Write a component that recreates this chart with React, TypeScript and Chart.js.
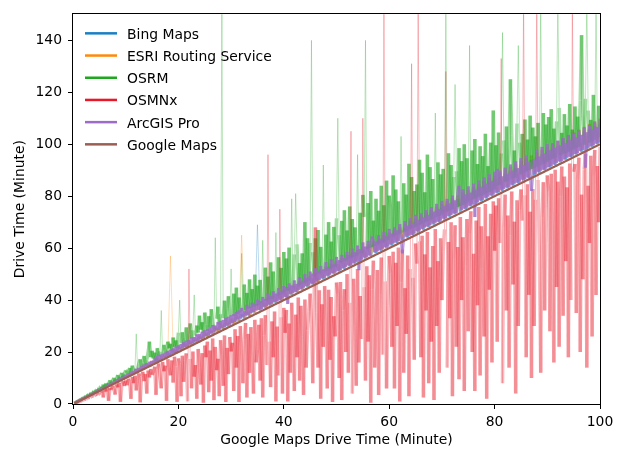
import { useEffect, useRef } from "react";
import { Chart, registerables } from "chart.js";

Chart.register(...registerables);

// Google Maps drive time (minutes) of the trips, sorted — x values of the dense series
const googleMinutes = [
  0.25, 0.5, 0.75, 1, 1.25, 1.5, 1.75, 2, 2.25, 2.5, 2.75, 3, 3.25, 3.5, 3.75, 4, 4.25, 4.5, 4.75, 5,
  5.25, 5.5, 5.75, 6, 6.25, 6.5, 6.75, 7, 7.25, 7.5, 7.75, 8, 8.25, 8.5, 8.75, 9, 9.25, 9.5, 9.75, 10,
  10.25, 10.5, 10.75, 11, 11.25, 11.5, 11.75, 12, 12.25, 12.5, 12.75, 13, 13.25, 13.5, 13.75, 14, 14.25, 14.5, 14.75, 15,
  15.25, 15.5, 15.75, 16, 16.25, 16.5, 16.75, 17, 17.25, 17.5, 17.75, 18, 18.25, 18.5, 18.75, 19, 19.25, 19.5, 19.75, 20,
  20.25, 20.5, 20.75, 21, 21.25, 21.5, 21.75, 22, 22.25, 22.5, 22.75, 23, 23.25, 23.5, 23.75, 24, 24.25, 24.5, 24.75, 25,
  25.25, 25.5, 25.75, 26, 26.25, 26.5, 26.75, 27, 27.25, 27.5, 27.75, 28, 28.25, 28.5, 28.75, 29, 29.25, 29.5, 29.75, 30,
  30.25, 30.5, 30.75, 31, 31.25, 31.5, 31.75, 32, 32.25, 32.5, 32.75, 33, 33.25, 33.5, 33.75, 34, 34.25, 34.5, 34.75, 35,
  35.25, 35.5, 35.75, 36, 36.25, 36.5, 36.75, 37, 37.25, 37.5, 37.75, 38, 38.25, 38.5, 38.75, 39, 39.25, 39.5, 39.75, 40,
  40.25, 40.5, 40.75, 41, 41.25, 41.5, 41.75, 42, 42.25, 42.5, 42.75, 43, 43.25, 43.5, 43.75, 44, 44.25, 44.5, 44.75, 45,
  45.25, 45.5, 45.75, 46, 46.25, 46.5, 46.75, 47, 47.25, 47.5, 47.75, 48, 48.25, 48.5, 48.75, 49, 49.25, 49.5, 49.75, 50,
  50.25, 50.5, 50.75, 51, 51.25, 51.5, 51.75, 52, 52.25, 52.5, 52.75, 53, 53.25, 53.5, 53.75, 54, 54.25, 54.5, 54.75, 55,
  55.25, 55.5, 55.75, 56, 56.25, 56.5, 56.75, 57, 57.25, 57.5, 57.75, 58, 58.25, 58.5, 58.75, 59, 59.25, 59.5, 59.75, 60,
  60.25, 60.5, 60.75, 61, 61.25, 61.5, 61.75, 62, 62.25, 62.5, 62.75, 63, 63.25, 63.5, 63.75, 64, 64.25, 64.5, 64.75, 65,
  65.25, 65.5, 65.75, 66, 66.25, 66.5, 66.75, 67, 67.25, 67.5, 67.75, 68, 68.25, 68.5, 68.75, 69, 69.25, 69.5, 69.75, 70,
  70.25, 70.5, 70.75, 71, 71.25, 71.5, 71.75, 72, 72.25, 72.5, 72.75, 73, 73.25, 73.5, 73.75, 74, 74.25, 74.5, 74.75, 75,
  75.25, 75.5, 75.75, 76, 76.25, 76.5, 76.75, 77, 77.25, 77.5, 77.75, 78, 78.25, 78.5, 78.75, 79, 79.25, 79.5, 79.75, 80,
  80.25, 80.5, 80.75, 81, 81.25, 81.5, 81.75, 82, 82.25, 82.5, 82.75, 83, 83.25, 83.5, 83.75, 84, 84.25, 84.5, 84.75, 85,
  85.25, 85.5, 85.75, 86, 86.25, 86.5, 86.75, 87, 87.25, 87.5, 87.75, 88, 88.25, 88.5, 88.75, 89, 89.25, 89.5, 89.75, 90,
  90.25, 90.5, 90.75, 91, 91.25, 91.5, 91.75, 92, 92.25, 92.5, 92.75, 93, 93.25, 93.5, 93.75, 94, 94.25, 94.5, 94.75, 95,
  95.25, 95.5, 95.75, 96, 96.25, 96.5, 96.75, 97, 97.25, 97.5, 97.75, 98, 98.25, 98.5, 98.75, 99, 99.25, 99.5, 99.75, 100,
];

const osrm = [
  0.3, 0.6, 0.9, 1.2, 1.4, 1.8, 2.0, 2.5, 2.5, 3.1, 3.1, 3.8, 3.6, 4.4, 4.2, 5.0, 4.7, 5.6, 5.2, 6.3,
  6.6, 5.9, 7.5, 6.5, 8.0, 7.2, 7.4, 9.2, 7.8, 8.6, 10.1, 8.7, 9.4, 11.2, 9.3, 10.5, 12.0, 10.2, 11.5, 13.0,
  12.5, 11.4, 13.9, 12.2, 14.8, 13.0, 12.6, 27, 13.5, 15.6, 17.2, 14.3, 16.0, 18.5, 15.0, 17.2, 19.6, 24, 18.0, 20.5,
  17.5, 19.8, 16.6, 21.5, 18.4, 20.2, 36, 18.9, 22.8, 20.6, 19.5, 24.0, 21.4, 23.2, 20.3, 25.6, 22.0, 24.5, 21.6, 27.5,
  40, 23.5, 27.6, 22.8, 25.4, 29.5, 24.0, 26.9, 31.0, 25.2, 28.4, 42, 26.3, 30.2, 27.5, 34.0, 28.6, 31.5, 27.4, 35.2,
  30.5, 28.2, 33.8, 29.6, 36.5, 31.2, 29.0, 64, 32.8, 37.5, 30.6, 34.6, 155, 33.0, 39.8, 31.8, 36.8, 41.5, 33.4, 52,
  34.0, 42.5, 33.8, 44.8, 34.6, 41.0, 35.2, 58, 35.8, 46.0, 36.0, 42.8, 36.6, 48.0, 37.0, 44.2, 37.4, 49.8, 37.8, 45.6,
  38.2, 47.8, 38.8, 63, 39.4, 52.5, 39.8, 49.0, 40.2, 54.5, 40.6, 51.0, 41.0, 66, 41.6, 56.5, 42.0, 52.4, 42.6, 58.5,
  43.2, 56.0, 43.6, 60.2, 44.0, 79, 44.6, 57.6, 81, 61.5, 45.6, 54.2, 46.0, 58.0, 46.4, 70, 46.8, 63.8, 47.4, 62.0,
  140, 58.5, 49.2, 63.8, 49.8, 67.0, 50.2, 60.5, 50.6, 92, 51.0, 65.2, 51.4, 70.0, 51.8, 62.5, 52.4, 68.2, 52.8, 71.5,
  110, 65.0, 54.4, 70.5, 54.8, 74.6, 55.2, 66.8, 55.8, 76.0, 56.2, 71.2, 56.6, 68.0, 57.0, 96, 57.6, 73.6, 58.0, 80.5,
  72.0, 140, 59.6, 77.4, 60.0, 82.0, 60.4, 70.6, 60.8, 79.0, 61.4, 74.4, 61.8, 84.0, 62.2, 76.5, 62.6, 86.0, 63.2, 80.2,
  75.5, 64.2, 88.0, 64.8, 82.6, 65.2, 78.0, 65.6, 103, 66.0, 85.0, 66.4, 80.6, 66.8, 92.5, 67.4, 87.4, 67.8, 82.0, 68.2,
  84.5, 68.8, 94.0, 69.2, 89.0, 69.6, 81.5, 70.2, 96.0, 70.6, 91.2, 71.0, 86.6, 71.6, 112, 72.0, 93.0, 72.4, 88.4, 73.0,
  90.5, 73.6, 155, 74.0, 96.5, 74.6, 92.0, 75.0, 87.4, 123, 89.6, 75.8, 98.5, 76.2, 93.5, 76.6, 100.0, 77.2, 94.6, 77.6,
  138, 78.4, 97.6, 78.8, 102.0, 79.4, 92.4, 79.8, 99.2, 80.2, 95.4, 80.6, 104.0, 81.2, 91.6, 81.6, 100.6, 82.0, 113, 82.6,
  99.6, 84.0, 104.5, 84.4, 96.5, 143, 101.5, 85.4, 106.8, 85.8, 98.0, 125, 103.4, 86.8, 97.6, 87.2, 108.0, 138, 100.6, 88.4,
  104.0, 89.0, 109.5, 89.6, 101.8, 90.0, 111.0, 90.4, 106.4, 90.8, 103.0, 91.4, 108.2, 91.8, 155, 92.2, 112.0, 92.6, 107.6, 93.2,
  110.5, 94.0, 113.5, 94.4, 106.0, 94.8, 108.8, 155, 114.0, 95.8, 104.4, 96.2, 111.6, 96.6, 107.2, 97.0, 115.5, 97.6, 105.6, 98.0,
  114.5, 98.6, 110.6, 99.0, 116.8, 142, 111.2, 99.8, 117.5, 155, 113.0, 100.6, 109.4, 101.2, 119.0, 101.6, 155, 102.2, 114.8, 102.8,
];

const osmnx = [
  0.2, 0.4, 0.6, 0.8, 0.9, 1.2, 1.4, 1.5, 1.9, 2.0, 2.2, 2.6, 2.5, 3.0, 3.2, 3.1, 3.6, 3.9, 3.5, 4.2,
  4.4, 5.1, 2.5, 5.6, 4.8, 6.1, 1.2, 6.2, 5.4, 7.0, 6.0, 3.6, 7.6, 6.4, 8.2, 0.8, 7.4, 8.8, 6.9, 9.1,
  7.2, 9.8, 8.4, 2.0, 10.4, 8.0, 10.9, 5.2, 9.6, 11.8, 0.6, 10.5, 12.4, 8.8, 11.6, 4.0, 12.9, 10.2, 13.5, 11.2,
  12.0, 14.4, 3.5, 13.2, 15.6, 10.8, 6.0, 16.2, 12.6, 14.8, 1.2, 17.2, 13.6, 11.0, 16.8, 8.2, 18.2, 14.4, 0.8, 17.6,
  15.4, 3.0, 18.6, 8.5, 16.8, 19.5, 1.0, 52, 17.4, 6.0, 20.2, 10.5, 15.0, 2.0, 21.2, 14.0, 7.5, 19.6, 0.5, 22.5,
  18.0, 24.0, 4.5, 20.6, 9.0, 25.2, 1.5, 22.0, 13.0, 17.4, 3.0, 24.6, 19.0, 7.0, 26.4, 0.8, 21.6, 11.5, 25.8, 20.2,
  23.6, 5.0, 28.8, 14.0, 26.2, 0.8, 30.0, 20.4, 8.0, 24.8, 31.2, 2.5, 27.0, 12.0, 29.6, 18.8, 4.0, 32.4, 16.0, 21.0,
  30.5, 9.0, 33.0, 2.5, 26.4, 34.2, 15.0, 96, 24.0, 6.5, 31.8, 18.0, 35.6, 1.0, 29.8, 11.0, 75, 33.4, 4.0, 37.0,
  27.4, 36.2, 1.0, 31.0, 12.0, 39.0, 24.6, 5.0, 34.4, 18.0, 41.0, 9.0, 37.8, 26.0, 3.5, 40.2, 14.0, 28.4, 35.6, 42.5,
  30.6, 8.0, 40.0, 68, 35.2, 14.0, 43.8, 2.0, 38.4, 22.0, 45.4, 32.0, 6.0, 44.0, 17.0, 41.2, 0.8, 33.8, 26.0, 46.8,
  42.4, 10.0, 47.0, 1.5, 36.0, 44.2, 20.0, 50.0, 12.0, 39.0, 105, 4.0, 48.2, 30.2, 7.0, 52.0, 16.0, 41.6, 25.0, 110,
  45.0, 9.0, 53.0, 24.0, 49.6, 0.5, 44.0, 55.2, 14.0, 34.0, 51.6, 3.5, 42.6, 56.4, 19.0, 155, 47.2, 6.0, 38.0, 57.0,
  50.8, 22.0, 58.6, 6.0, 54.4, 30.0, 60.2, 1.0, 46.8, 59.4, 12.0, 44.6, 27.0, 57.2, 3.0, 52.0, 131, 48.6, 17.0, 61.8,
  54.0, 155, 62.6, 18.0, 64.8, 2.5, 57.6, 36.0, 66.2, 8.0, 52.6, 24.0, 60.8, 1.5, 67.4, 30.0, 55.0, 12.0, 63.8, 40.0,
  58.8, 67.2, 128, 14.0, 62.4, 33.0, 70.0, 3.0, 56.0, 68.8, 22.0, 60.4, 9.5, 72.0, 40.0, 64.2, 5.0, 53.4, 71.2, 28.0,
  66.0, 74.2, 20.0, 57.8, 5.0, 70.6, 38.0, 75.8, 11.0, 68.4, 52.2, 26.0, 77.0, 2.0, 64.6, 44.0, 73.2, 16.0, 78.0, 59.0,
  76.4, 24.0, 79.2, 62.0, 133, 8.0, 68.4, 80.6, 36.0, 72.6, 14.0, 64.8, 81.8, 46.0, 70.2, 4.0, 78.4, 30.0, 74.6, 82.6,
  70.6, 155, 80.4, 18.0, 84.6, 42.0, 74.0, 10.0, 82.8, 30.0, 78.6, 155, 86.2, 58.0, 12.0, 71.8, 85.4, 36.0, 76.2, 88.0,
  82.0, 28.0, 88.6, 62.0, 16.0, 90.2, 45.0, 85.6, 22.0, 79.8, 91.4, 34.0, 87.6, 55.0, 83.4, 18.0, 92.6, 40.0, 155, 89.4,
  92.4, 35.0, 86.8, 94.8, 20.0, 80.6, 48.0, 90.4, 96.2, 14.0, 84.0, 62.0, 95.6, 26.0, 88.2, 97.8, 42.0, 91.6, 70.0, 99.0,
];

const arcgisPro = [
  0.26, 0.53, 0.79, 1.05, 1.3, 1.6, 1.82, 2.12, 2.35, 2.65, 2.88, 3.2, 3.4, 3.7, 3.95, 4.2, 4.5, 4.7, 5.0, 5.3,
  5.5, 5.9, 6.0, 6.6, 6.5, 7.2, 7.0, 7.7, 7.5, 8.3, 8.0, 8.8, 8.5, 9.3, 9.1, 9.9, 9.5, 10.5, 10.0, 10.9,
  10.6, 11.6, 11.0, 12.3, 11.5, 12.8, 12.0, 13.6, 12.4, 13.9, 13.0, 14.6, 13.5, 15.2, 14.0, 15.7, 14.4, 16.3, 15.0, 16.6,
  15.8, 17.6, 16.2, 18.4, 16.6, 19.0, 17.2, 19.3, 17.9, 19.8, 18.2, 20.4, 18.6, 21.0, 19.3, 21.4, 19.6, 22.1, 20.0, 22.6,
  21.0, 23.2, 21.4, 23.8, 22.0, 24.4, 22.3, 24.6, 23.0, 25.6, 23.4, 25.8, 24.1, 26.8, 24.3, 27.0, 25.0, 27.8, 25.4, 28.4,
  26.2, 28.8, 26.4, 29.6, 27.3, 30.4, 27.6, 30.2, 28.4, 31.6, 28.5, 32.0, 29.3, 32.4, 29.6, 33.2, 30.2, 33.6, 30.6, 34.2,
  31.2, 34.6, 31.6, 35.4, 32.6, 36.0, 32.9, 37.0, 33.5, 35.8, 34.0, 38.2, 34.2, 37.4, 35.0, 39.0, 35.4, 38.4, 36.0, 40.2,
  36.2, 39.6, 36.5, 41.2, 37.4, 40.4, 37.6, 42.6, 38.3, 41.6, 38.6, 43.4, 39.3, 42.4, 39.6, 44.6, 40.2, 43.2, 40.6, 45.4,
  41.2, 45.0, 38.5, 46.4, 42.4, 45.6, 42.8, 47.6, 43.2, 46.2, 43.8, 48.8, 44.2, 47.4, 44.8, 50.0, 45.4, 48.6, 45.6, 51.0,
  46.4, 50.2, 46.6, 52.2, 47.2, 51.0, 47.8, 53.2, 48.4, 51.8, 48.6, 54.6, 49.4, 52.6, 49.8, 55.8, 50.4, 53.8, 50.6, 56.6,
  51.2, 55.4, 51.6, 57.4, 52.2, 56.2, 52.8, 58.6, 53.4, 57.2, 53.6, 59.8, 54.2, 58.4, 54.8, 61.0, 51.5, 59.6, 55.6, 62.2,
  56.4, 60.6, 56.6, 62.8, 57.2, 61.6, 64.5, 63.6, 58.4, 62.4, 58.8, 65.0, 59.2, 63.4, 59.8, 66.2, 60.4, 64.6, 60.6, 67.4,
  61.4, 65.6, 61.8, 68.0, 62.2, 66.8, 62.8, 69.2, 63.4, 58.0, 63.8, 70.4, 64.4, 68.6, 64.8, 71.6, 65.2, 69.6, 65.6, 72.8,
  66.6, 70.8, 66.8, 73.4, 67.4, 71.8, 68.0, 74.6, 68.4, 72.8, 68.8, 75.8, 69.4, 74.0, 69.8, 77.0, 70.2, 75.0, 70.6, 78.2,
  71.4, 76.2, 71.6, 79.0, 72.4, 77.2, 72.8, 80.2, 73.4, 78.4, 73.6, 81.6, 84.0, 79.4, 74.6, 82.6, 75.2, 80.6, 75.6, 83.8,
  76.4, 81.4, 76.8, 84.8, 72.0, 82.4, 77.6, 86.0, 78.4, 83.6, 78.6, 87.2, 79.4, 84.8, 79.8, 88.4, 80.4, 85.8, 80.6, 89.4,
  81.4, 90.5, 81.6, 89.8, 82.4, 87.6, 82.8, 91.0, 83.4, 88.6, 83.6, 92.2, 84.4, 89.8, 84.8, 93.4, 85.2, 90.8, 85.6, 94.6,
  86.4, 92.0, 86.6, 95.6, 87.2, 93.2, 87.8, 82.0, 88.4, 94.2, 88.6, 97.8, 89.4, 95.2, 89.8, 99.0, 90.2, 96.4, 90.6, 100.0,
  91.2, 97.6, 91.6, 100.4, 92.2, 98.6, 92.8, 101.4, 93.4, 99.6, 93.6, 102.4, 94.2, 100.4, 94.8, 103.6, 95.2, 101.6, 95.6, 104.4,
  96.2, 102.6, 96.6, 105.2, 97.4, 103.6, 97.8, 106.4, 91.0, 104.6, 98.6, 107.4, 99.2, 105.6, 99.6, 108.4, 100.2, 106.6, 100.6, 109.6,
];

// Bing and ESRI were sampled on a coarser set of trips (every 0.5 minute)
const sampleMinutes = [
  0.5, 1, 1.5, 2, 2.5, 3, 3.5, 4, 4.5, 5, 5.5, 6, 6.5, 7, 7.5, 8, 8.5, 9, 9.5, 10,
  10.5, 11, 11.5, 12, 12.5, 13, 13.5, 14, 14.5, 15, 15.5, 16, 16.5, 17, 17.5, 18, 18.5, 19, 19.5, 20,
  20.5, 21, 21.5, 22, 22.5, 23, 23.5, 24, 24.5, 25, 25.5, 26, 26.5, 27, 27.5, 28, 28.5, 29, 29.5, 30,
  30.5, 31, 31.5, 32, 32.5, 33, 33.5, 34, 34.5, 35, 35.5, 36, 36.5, 37, 37.5, 38, 38.5, 39, 39.5, 40,
  40.5, 41, 41.5, 42, 42.5, 43, 43.5, 44, 44.5, 45, 45.5, 46, 46.5, 47, 47.5, 48, 48.5, 49, 49.5, 50,
  50.5, 51, 51.5, 52, 52.5, 53, 53.5, 54, 54.5, 55, 55.5, 56, 56.5, 57, 57.5, 58, 58.5, 59, 59.5, 60,
  60.5, 61, 61.5, 62, 62.5, 63, 63.5, 64, 64.5, 65, 65.5, 66, 66.5, 67, 67.5, 68, 68.5, 69, 69.5, 70,
  70.5, 71, 71.5, 72, 72.5, 73, 73.5, 74, 74.5, 75, 75.5, 76, 76.5, 77, 77.5, 78, 78.5, 79, 79.5, 80,
  80.5, 81, 81.5, 82, 82.5, 83, 83.5, 84, 84.5, 85, 85.5, 86, 86.5, 87, 87.5, 88, 88.5, 89, 89.5, 90,
  90.5, 91, 91.5, 92, 92.5, 93, 93.5, 94, 94.5, 95, 95.5, 96, 96.5, 97, 97.5, 98, 98.5, 99, 99.5, 100,
];

const bingMaps = [
  0.6, 1.2, 1.7, 2.3, 2.8, 3.4, 3.8, 4.5, 4.9, 5.7, 5.9, 6.8, 7.0, 7.9, 8.0, 9.1, 9.0, 10.2, 10.0, 11.3,
  10.7, 11.9, 11.7, 12.9, 12.7, 14.0, 13.7, 15.1, 14.7, 16.2, 15.7, 17.3, 16.7, 18.4, 17.7, 19.4, 18.7, 20.5, 19.7, 21.6,
  20.8, 22.7, 21.8, 23.8, 22.8, 24.8, 23.8, 25.9, 24.8, 27.0, 25.8, 28.1, 26.8, 29.2, 27.8, 30.2, 28.8, 31.3, 29.8, 32.4,
  30.9, 33.5, 31.9, 34.6, 32.9, 35.6, 33.9, 36.7, 34.9, 69, 35.9, 38.9, 36.9, 39.9, 37.9, 41.0, 38.9, 42.1, 39.9, 43.2,
  41.0, 44.3, 42.0, 45.4, 43.0, 46.4, 44.0, 47.5, 45.0, 48.6, 46.0, 49.7, 47.0, 50.8, 48.0, 51.8, 49.0, 52.9, 50.0, 54.0,
  51.0, 55.1, 52.0, 56.2, 53.0, 57.2, 54.0, 58.3, 55.0, 59.4, 56.0, 60.5, 57.0, 61.6, 58.0, 62.6, 59.0, 63.7, 60.0, 64.8,
  61.0, 65.9, 62.0, 67.0, 63.0, 68.0, 64.0, 69.1, 65.0, 70.2, 66.0, 71.3, 67.0, 72.4, 68.0, 73.4, 69.0, 74.5, 70.0, 75.6,
  71.0, 76.7, 72.0, 77.8, 73.0, 78.8, 74.0, 79.9, 75.0, 81.0, 76.0, 82.1, 77.0, 83.2, 78.0, 84.2, 79.0, 85.3, 80.0, 86.4,
  81.0, 87.5, 82.0, 88.6, 83.0, 89.6, 84.0, 90.7, 85.0, 91.8, 86.0, 92.9, 87.0, 94.0, 88.0, 95.0, 89.0, 96.1, 90.0, 97.2,
  91.0, 98.3, 92.0, 99.4, 93.0, 100.4, 94.0, 101.5, 95.0, 102.6, 96.0, 103.7, 97.0, 104.8, 98.0, 105.8, 99.0, 106.9, 100.0, 108.0,
];

const esriRouting = [
  0.5, 1.1, 1.6, 2.2, 2.6, 3.3, 3.6, 4.4, 4.6, 5.5, 5.6, 6.6, 6.6, 7.7, 7.7, 8.8, 8.7, 9.9, 9.7, 11.0,
  10.7, 12.1, 11.7, 13.2, 12.8, 14.3, 13.8, 15.4, 14.8, 16.5, 15.8, 17.6, 16.8, 18.7, 17.9, 19.8, 57, 20.9, 19.9, 22.0,
  20.9, 23.1, 21.9, 24.2, 23.0, 25.3, 24.0, 26.4, 25.0, 27.5, 26.0, 28.6, 27.0, 29.7, 28.1, 30.8, 29.1, 31.9, 30.1, 33.0,
  31.1, 34.1, 32.1, 65, 33.2, 36.3, 34.2, 37.4, 35.2, 38.5, 36.2, 39.6, 37.2, 40.7, 38.3, 41.8, 39.3, 42.9, 40.3, 44.0,
  41.3, 45.1, 42.3, 46.2, 43.4, 47.3, 44.4, 48.4, 45.4, 49.5, 46.4, 50.6, 47.4, 51.7, 48.5, 52.8, 49.5, 53.9, 50.5, 55.0,
  51.5, 56.1, 52.5, 57.2, 53.6, 58.3, 54.6, 59.4, 55.6, 60.5, 56.6, 61.6, 57.6, 62.7, 58.7, 63.8, 59.7, 64.9, 60.7, 66.0,
  61.7, 67.1, 62.7, 68.2, 63.8, 69.3, 64.8, 70.4, 65.8, 71.5, 66.8, 72.6, 67.8, 73.7, 68.9, 74.8, 69.9, 75.9, 70.9, 77.0,
  71.9, 78.1, 72.9, 79.2, 74.0, 80.3, 75.0, 81.4, 76.0, 82.5, 77.0, 83.6, 78.0, 84.7, 79.1, 85.8, 80.1, 86.9, 81.1, 88.0,
  82.1, 89.1, 83.1, 90.2, 84.2, 91.3, 85.2, 92.4, 86.2, 93.5, 87.2, 94.6, 88.2, 95.7, 89.3, 96.8, 90.3, 97.9, 91.3, 99.0,
  92.3, 100.1, 93.3, 101.2, 94.4, 102.3, 95.4, 103.4, 96.4, 104.5, 97.4, 105.6, 98.4, 106.7, 99.5, 107.8, 100.5, 108.9, 101.5, 110.0,
];

const seriesNames = ["Bing Maps", "ESRI Routing Service", "OSRM", "OSMNx", "ArcGIS Pro", "Google Maps"];
const xTickValues = [0, 20, 40, 60, 80, 100];
const yTickValues = [0, 20, 40, 60, 80, 100, 120, 140];

const FONT = "DejaVu Sans";
const FONT_SIZE = 13.9;

const COLORS: number[][] = [
  [26, 128, 196],
  [255, 138, 10],
  [30, 168, 30],
  [232, 24, 40],
  [156, 108, 200],
  [154, 94, 82],
];
const BASE_ALPHA = [0.4, 0.4, 0.42, 0.32, 0.6];
const BODY_WIDTH = [3, 3, 3.5, 3.5, 3];

const rgba = (c: number[], a: number) => `rgba(${c[0]},${c[1]},${c[2]},${a})`;

function noisySeries(idx: number, xs: number[], values: number[], order: number) {
  const c = COLORS[idx];
  const base = BASE_ALPHA[idx];
  // a stroke reaching far above its Google time is an isolated outlier: thin and faint
  const isOutlier = (ctx: any) => {
    const top = Math.max(values[ctx.p0DataIndex], values[ctx.p1DataIndex]);
    return top > 1.5 * xs[ctx.p1DataIndex] + 4;
  };
  const dyOf = (ctx: any) => Math.abs(ctx.p1.y - ctx.p0.y);
  return {
    label: seriesNames[idx],
    data: xs.map((x, i) => ({ x, y: values[i] })),
    borderColor: rgba(c, base),
    borderWidth: BODY_WIDTH[idx],
    pointRadius: 0,
    tension: 0,
    order,
    segment: {
      borderColor: (ctx: any) =>
        isOutlier(ctx)
          ? rgba(c, 0.28 + 2 / (dyOf(ctx) + 200))
          : rgba(c, Math.min(0.9, base * (0.85 + 8 / (dyOf(ctx) + 30)))),
      borderWidth: (ctx: any) => (isOutlier(ctx) ? 1 : BODY_WIDTH[idx]),
    },
  };
}

const framePlugin = {
  id: "frame",
  afterDatasetsDraw(chart: any) {
    const { ctx, chartArea: a } = chart;
    ctx.save();
    ctx.strokeStyle = "#000";
    ctx.lineWidth = 1;
    const l = Math.round(a.left) - 0.5;
    const t = Math.round(a.top) - 0.5;
    const r = Math.round(a.right) + 0.5;
    const b = Math.round(a.bottom) + 0.5;
    ctx.strokeRect(l, t, r - l, b - t);
    ctx.restore();
  },
};

const legendPlugin = {
  id: "inlineLegend",
  afterDraw(chart: any) {
    const { ctx, chartArea: a } = chart;
    ctx.save();
    ctx.font = `${FONT_SIZE}px "${FONT}"`;
    ctx.textBaseline = "alphabetic";
    ctx.textAlign = "left";
    seriesNames.forEach((name, i) => {
      const y = a.top + 19 + i * 22.2;
      ctx.strokeStyle = rgba(COLORS[i], 1);
      ctx.lineWidth = 2.5;
      ctx.beginPath();
      ctx.moveTo(a.left + 12, y);
      ctx.lineTo(a.left + 44, y);
      ctx.stroke();
      ctx.fillStyle = "#000";
      ctx.fillText(name, a.left + 54, y + 5.5);
    });
    ctx.restore();
  },
};

export default function App() {
  const canvasRef = useRef<HTMLCanvasElement | null>(null);

  useEffect(() => {
    if (!canvasRef.current) return;
    const font = { family: FONT, size: FONT_SIZE };
    const chart = new Chart(canvasRef.current, {
      type: "line",
      data: {
        datasets: [
          noisySeries(0, sampleMinutes, bingMaps, 6),
          noisySeries(1, sampleMinutes, esriRouting, 5),
          noisySeries(2, googleMinutes, osrm, 4),
          noisySeries(3, googleMinutes, osmnx, 3),
          noisySeries(4, googleMinutes, arcgisPro, 2),
          {
            label: seriesNames[5],
            data: googleMinutes.map((x) => ({ x, y: x })),
            borderColor: rgba(COLORS[5], 1),
            borderWidth: 2.2,
            pointRadius: 0,
            order: 1,
          },
        ] as any,
      },
      options: {
        responsive: false,
        animation: false,
        layout: { padding: { left: 0, right: 21, top: 12, bottom: 0 } },
        plugins: { legend: { display: false }, tooltip: { enabled: false } },
        scales: {
          x: {
            type: "linear",
            min: 0,
            max: 100,
            afterFit: (s: any) => {
              s.height = 46;
            },
            afterBuildTicks: (s: any) => {
              s.ticks = xTickValues.map((v) => ({ value: v }));
            },
            grid: { drawOnChartArea: false, tickLength: 5, color: "#000", lineWidth: 1 },
            border: { display: false },
            ticks: { color: "#000", font, padding: 5, maxRotation: 0, autoSkip: false },
            title: {
              display: true,
              text: "Google Maps Drive Time (Minute)",
              color: "#000",
              font,
              padding: { top: 0, bottom: 1 },
            },
          },
          y: {
            type: "linear",
            min: 0,
            max: 150,
            afterFit: (s: any) => {
              s.width = 73;
            },
            afterBuildTicks: (s: any) => {
              s.ticks = yTickValues.map((v) => ({ value: v }));
            },
            grid: { drawOnChartArea: false, tickLength: 5, color: "#000", lineWidth: 1 },
            border: { display: false },
            ticks: { color: "#000", font, padding: 6, autoSkip: false },
            title: {
              display: true,
              text: "Drive Time (Minute)",
              color: "#000",
              font,
              padding: { top: 12, bottom: 0 },
            },
          },
        },
      } as any,
      plugins: [framePlugin, legendPlugin],
    });
    return () => chart.destroy();
  }, []);

  return (
    <div style={{ position: "absolute", left: 0, top: 0, width: 621, height: 450, background: "#fff" }}>
      <canvas ref={canvasRef} width={621} height={450} />
    </div>
  );
}
